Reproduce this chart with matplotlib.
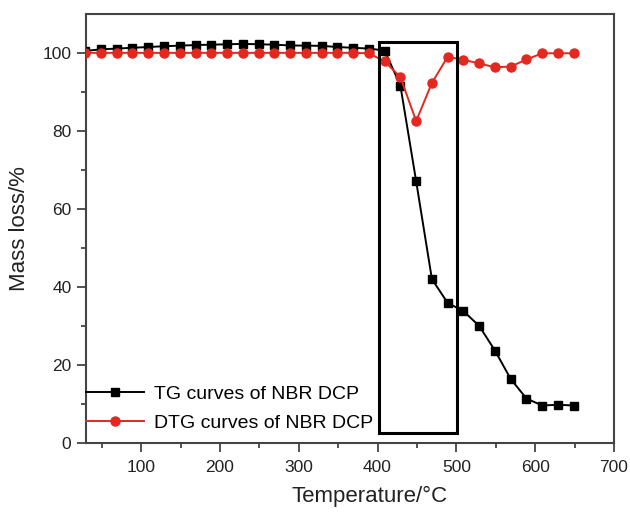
import matplotlib
matplotlib.use("Agg")
import matplotlib.pyplot as plt
from matplotlib.patches import Rectangle

plt.rcParams['font.family'] = ['Liberation Sans', 'DejaVu Sans']

# temperature of each sample point, degC
temperature = [29, 49, 69, 89, 109, 129, 149, 169, 189, 209, 229, 249, 269, 289, 309, 329,
               349, 369, 389, 409, 429, 449, 469, 489, 509, 529, 549, 569, 589, 609, 629, 649]
tg = [100.5, 100.9, 101.1, 101.3, 101.5, 101.7, 101.85, 102.0, 102.1, 102.2, 102.3, 102.2,
      102.1, 101.9, 101.85, 101.8, 101.5, 101.3, 101.1, 100.6, 91.6, 67.1, 42.0, 35.9,
      33.8, 30.0, 23.7, 16.4, 11.4, 9.6, 9.8, 9.6]
dtg = [100.0, 100.0, 100.0, 100.0, 100.0, 100.0, 100.0, 100.0, 100.0, 100.0, 100.0, 100.0,
       100.0, 100.0, 100.0, 100.0, 100.0, 100.0, 99.9, 97.8, 93.8, 82.5, 92.3, 99.0,
       98.2, 97.3, 96.3, 96.5, 98.3, 99.9, 99.9, 99.9]

# highlighted degradation window
box_t = (402, 500.4)
box_y = (2.6, 102.7)

red = '#e3281f'
spine_col = '#444444'

fig = plt.figure(figsize=(6.30, 5.13), dpi=100)
ax = fig.add_axes([0.1365, 0.1365, 0.838, 0.8365])

ax.plot(temperature, tg, color='black', lw=1.4, marker='s', ms=5.5,
        label='TG curves of NBR DCP', zorder=3)
ax.plot(temperature, dtg, color=red, lw=1.4, marker='o', ms=6.5,
        label='DTG curves of NBR DCP', zorder=4)

ax.add_patch(Rectangle((box_t[0], box_y[0]), box_t[1] - box_t[0], box_y[1] - box_y[0],
                       fill=False, edgecolor='black', lw=2.2, zorder=5))

ax.set_xlim(30, 700)
ax.set_ylim(0, 110)
ax.set_xticks(range(100, 701, 100))
ax.set_xticks(range(50, 701, 100), minor=True)
ax.set_yticks(range(0, 101, 20))
ax.set_yticks(range(10, 101, 20), minor=True)

for s in ax.spines.values():
    s.set_color(spine_col)
    s.set_linewidth(1.5)

ax.tick_params(which='major', direction='out', length=6.5, width=1.3, color=spine_col,
               labelsize=12.5, labelcolor='#222222', pad=4,
               top=False, right=False)
ax.tick_params(axis='x', which='major', pad=6)
ax.tick_params(which='minor', direction='out', length=3.5, width=1.3, color=spine_col,
               top=False, right=False)

ax.set_xlabel('Temperature/\u00b0C', fontsize=16, color='#222222')
ax.set_ylabel('Mass loss/%', fontsize=16, color='#222222')
ax.xaxis.set_label_coords((370 - 86) / 528, -0.1)
ax.yaxis.set_label_coords(-0.106, 0.5)

ax.legend(loc='center left', bbox_to_anchor=(0, 0.08), frameon=False, fontsize=14,
          borderaxespad=0, borderpad=0, handlelength=3.0, handletextpad=0.5,
          labelspacing=0.55, numpoints=1)

fig.savefig('out.png', dpi=100)
